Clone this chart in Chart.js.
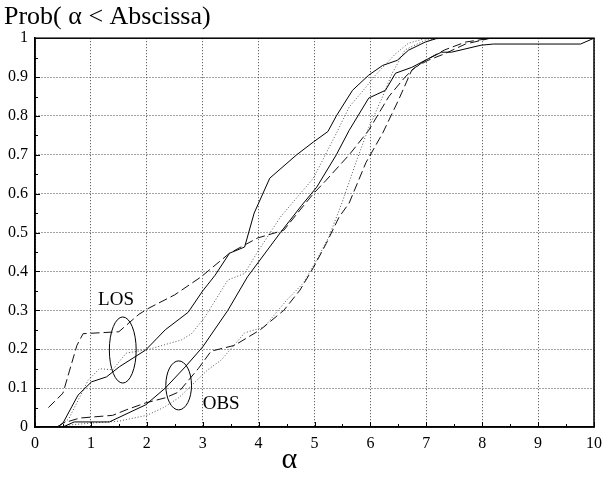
<!DOCTYPE html>
<html>
<head>
<meta charset="utf-8">
<script src="https://cdn.jsdelivr.net/npm/chart.js@4.4.1/dist/chart.umd.min.js"></script>
<style>
  html, body { margin: 0; padding: 0; background: #ffffff; }
  #wrap { width: 609px; height: 482px; }
</style>
</head>
<body>
<div id="wrap"><canvas id="cdfChart"></canvas></div>
<script>
const losSolid = [[0,0],[0.4,0],[0.5,0.01],[0.77,0.082],[1.01,0.116],[1.28,0.129],[1.51,0.155],[1.98,0.198],[2.33,0.25],[2.74,0.295],[3.0,0.35],[3.22,0.39],[3.48,0.447],[3.75,0.463],[3.92,0.55],[4.2,0.64],[4.68,0.70],[4.98,0.733],[5.24,0.76],[5.39,0.80],[5.68,0.866],[5.97,0.905],[6.22,0.93],[6.48,0.943],[6.68,0.969],[6.98,0.99],[7.2,1],[10,1]];
const losDashed = [[0.24,0.05],[0.5,0.087],[0.75,0.21],[0.86,0.24],[1.5,0.245],[1.86,0.29],[2.04,0.306],[2.5,0.34],[2.97,0.386],[3.48,0.447],[3.98,0.486],[4.45,0.506],[4.74,0.558],[4.98,0.60],[5.21,0.635],[5.62,0.70],[5.97,0.763],[6.33,0.85],[6.62,0.90],[6.8,0.925],[7.03,0.943],[7.33,0.96],[7.7,0.985],[8.15,1],[10,1]];
const losDotted = [[0.4,0],[0.6,0.02],[0.95,0.12],[1.15,0.15],[1.39,0.147],[1.63,0.19],[2.04,0.2],[2.62,0.224],[2.8,0.24],[3.04,0.283],[3.45,0.378],[3.75,0.395],[3.98,0.45],[4.39,0.54],[4.98,0.64],[5.39,0.755],[5.62,0.823],[5.92,0.874],[6.09,0.905],[6.45,0.96],[6.68,0.987],[7.0,1],[10,1]];
const obsSolid = [[0,0],[0.5,0],[0.7,0.013],[1.33,0.013],[1.98,0.057],[2.33,0.10],[2.69,0.155],[3.0,0.206],[3.45,0.30],[3.8,0.386],[4.39,0.50],[4.77,0.57],[5.04,0.617],[5.39,0.70],[5.62,0.763],[5.97,0.846],[6.27,0.866],[6.45,0.91],[6.74,0.925],[6.98,0.943],[7.27,0.964],[7.45,0.964],[7.98,0.982],[8.2,0.985],[9.76,0.985],[10,1]];
const obsDashed = [[0.4,0],[0.5,0.01],[0.8,0.023],[1.39,0.03],[1.63,0.044],[1.98,0.062],[2.33,0.075],[2.57,0.09],[2.92,0.15],[3.15,0.195],[3.57,0.21],[4.03,0.25],[4.45,0.30],[4.74,0.352],[4.98,0.41],[5.21,0.472],[5.44,0.54],[5.62,0.576],[5.92,0.68],[6.22,0.756],[6.5,0.84],[6.74,0.918],[6.98,0.943],[7.33,0.97],[7.7,0.99],[8.15,1],[10,1]];
const obsDotted = [[0.4,0],[0.6,0.005],[1.0,0.01],[1.5,0.015],[2.0,0.03],[2.3,0.05],[2.57,0.075],[3.09,0.147],[3.33,0.172],[3.75,0.242],[4.1,0.257],[4.5,0.326],[4.8,0.37],[5.04,0.43],[5.26,0.49],[5.5,0.58],[5.74,0.68],[5.97,0.77],[6.22,0.85],[6.39,0.91],[6.62,0.97],[6.98,0.995],[7.3,1],[10,1]];

// Group markers: [centre x, centre y, half width, half height] in data units
const losEllipse = [1.57, 0.198, 0.24, 0.085];
const obsEllipse = [2.57, 0.107, 0.23, 0.063];
// Text labels: [text, x, y]
const groupLabels = [['LOS', 1.45, 0.326], ['OBS', 3.33, 0.059]];

const SERIF = "'Liberation Serif', 'Times New Roman', serif";

function toPoints(pairs) {
    return pairs.map(p => ({ x: p[0], y: p[1] }));
}

function lineSet(pairs, color, dash) {
    return {
        data: toPoints(pairs),
        showLine: true,
        borderColor: color,
        borderWidth: 1,
        borderDash: dash,
        pointRadius: 0,
        tension: 0
    };
}

// Frame, inner tick marks, ellipses and labels
const decorations = {
    id: 'decorations',
    afterDatasetsDraw(chart) {
        const { ctx, chartArea: a, scales: { x, y } } = chart;
        ctx.save();

        // inner ticks (major + minor)
        ctx.strokeStyle = '#000';
        ctx.lineWidth = 1;
        const yt = y.ticks.map(t => t.value);
        const xt = x.ticks.map(t => t.value);
        ctx.beginPath();
        yt.forEach((v, i) => {
            const py = Math.round(y.getPixelForValue(v)) + 0.5;
            ctx.moveTo(a.left, py); ctx.lineTo(a.left + 5, py);
            if (i < yt.length - 1) {
                const pm = Math.round(y.getPixelForValue((v + yt[i + 1]) / 2)) + 0.5;
                ctx.moveTo(a.left, pm); ctx.lineTo(a.left + 3, pm);
            }
        });
        xt.forEach((v, i) => {
            const px = Math.round(x.getPixelForValue(v)) + 0.5;
            ctx.moveTo(px, a.bottom); ctx.lineTo(px, a.bottom - 5);
            if (i < xt.length - 1) {
                const pm = Math.round(x.getPixelForValue((v + xt[i + 1]) / 2)) + 0.5;
                ctx.moveTo(pm, a.bottom); ctx.lineTo(pm, a.bottom - 3);
            }
        });
        ctx.stroke();

        // frame
        ctx.lineWidth = 1.5;
        ctx.strokeRect(a.left, a.top, a.right - a.left, a.bottom - a.top);

        // ellipses
        ctx.lineWidth = 1;
        [losEllipse, obsEllipse].forEach(e => {
            const cx = x.getPixelForValue(e[0]);
            const cy = y.getPixelForValue(e[1]);
            const rx = Math.abs(x.getPixelForValue(e[0] + e[2]) - cx);
            const ry = Math.abs(y.getPixelForValue(e[1] + e[3]) - cy);
            ctx.beginPath();
            ctx.ellipse(cx, cy, rx, ry, 0, 0, Math.PI * 2);
            ctx.stroke();
        });

        // group labels
        ctx.fillStyle = '#000';
        ctx.font = '19px ' + SERIF;
        ctx.textAlign = 'center';
        ctx.textBaseline = 'middle';
        groupLabels.forEach(l => {
            ctx.fillText(l[0], x.getPixelForValue(l[1]), y.getPixelForValue(l[2]));
        });

        // x axis symbol
        ctx.font = '30px ' + SERIF;
        ctx.fillText('α', x.getPixelForValue(4.55), 460);

        ctx.restore();
    }
};

new Chart(document.getElementById('cdfChart'), {
    type: 'scatter',
    data: {
        datasets: [
            lineSet(losDashed, '#111', [9, 4]),
            lineSet(losSolid, '#000', []),
            lineSet(losDotted, '#555', [1, 2]),
            lineSet(obsSolid, '#000', []),
            lineSet(obsDashed, '#111', [9, 4]),
            lineSet(obsDotted, '#555', [1, 2])
        ]
    },
    options: {
        responsive: true,
        maintainAspectRatio: false,
        animation: false,
        layout: { padding: { left: 4, right: 7, top: 0, bottom: 0 } },
        plugins: {
            legend: { display: false },
            tooltip: { enabled: false },
            title: {
                display: true,
                text: 'Prob( α < Abscissa)',
                align: 'start',
                color: '#000',
                font: { family: SERIF, size: 26, weight: 'normal' },
                padding: { top: 2, bottom: 5 }
            }
        },
        scales: {
            x: {
                type: 'linear',
                min: 0,
                max: 10,
                afterFit: s => { s.height = 55; },
                ticks: {
                    stepSize: 1,
                    color: '#000',
                    padding: 7,
                    maxRotation: 0,
                    font: { family: SERIF, size: 16 }
                },
                grid: { color: '#444', drawTicks: false, lineWidth: 1 },
                border: { display: true, color: '#000', width: 1.5, dash: [1, 2] }
            },
            y: {
                type: 'linear',
                min: 0,
                max: 1,
                afterFit: s => { s.width = 31; },
                ticks: {
                    stepSize: 0.1,
                    color: '#000',
                    padding: 7,
                    font: { family: SERIF, size: 16 },
                    callback: v => String(Math.round(v * 10) / 10)
                },
                grid: { color: '#444', drawTicks: false, lineWidth: 1 },
                border: { display: true, color: '#000', width: 1.5, dash: [1, 2] }
            }
        }
    },
    plugins: [decorations]
});
</script>
</body>
</html>
